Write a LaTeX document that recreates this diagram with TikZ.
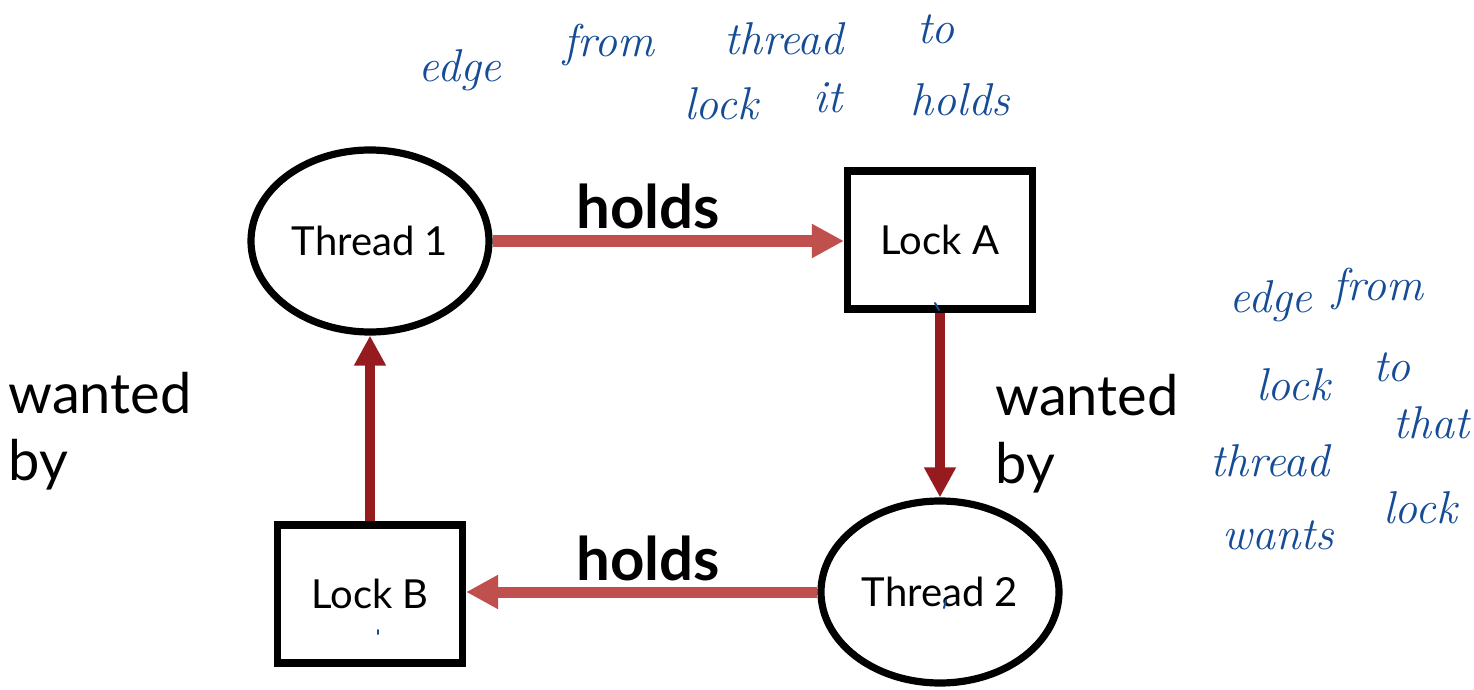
\documentclass[tikz,border=0pt]{standalone}
\usepackage{fontspec}
\setmainfont{Lato}
\usetikzlibrary{shapes.geometric,arrows.meta}
\definecolor{holdred}{HTML}{C0504D}
\definecolor{wantred}{HTML}{961B1E}
\definecolor{penblue}{RGB}{22,76,150}
\tikzset{
  thread/.style={ellipse, draw=black, line width=3.6pt, minimum width=119pt, minimum height=91pt, inner sep=0pt, font=\fontsize{20}{24}\selectfont},
  lockbox/.style={rectangle, draw=black, line width=3.6pt, minimum width=92.5pt, minimum height=69pt, inner sep=0pt, font=\fontsize{20}{24}\selectfont},
  holdsedge/.style={draw=holdred, line width=5.5pt, -{Triangle[length=16pt,width=16pt]}},
  wantedge/.style={draw=wantred, line width=5pt, -{Triangle[length=15pt,width=15pt]}},
  edgelabel/.style={font=\fontsize{30}{33}\selectfont\bfseries, anchor=base, inner sep=0pt},
  sidelabel/.style={font=\fontsize{28}{33.5}\selectfont, anchor=base west, inner sep=0pt},
  note/.style={font=\fontfamily{lmr}\fontsize{23}{26}\selectfont\itshape, text=penblue, anchor=base, inner sep=0pt},
  penmark/.style={draw=penblue, line width=1pt, line cap=round}
}
\begin{document}
\begin{tikzpicture}[x=0.5pt,y=-0.5pt]
  \useasboundingbox (0,0) rectangle (1474,690);

  % graph nodes
  \node[thread]  (t1) at (370,241) {Thread 1};
  \node[lockbox] (la) at (940,240) {Lock A};
  \node[thread]  (t2) at (940,592) {Thread 2};
  \node[lockbox] (lb) at (370,594) {Lock B};

  % edges
  \draw[holdsedge] (t1) -- (t1 -| la.west);
  \draw[wantedge]  (la) -- (t2);
  \draw[holdsedge] (t2) -- (t2 -| lb.east);
  \draw[wantedge]  (lb) -- (t1);

  % edge labels
  \node[edgelabel] (h1) at (648,228) {holds};
  \node[edgelabel] (h2) at (648,580) {holds};
  \node[sidelabel] (w1a) at (8,413) {wanted};
  \node[sidelabel] (w1b) at (8,480) {by};
  \node[sidelabel] (w2a) at (995,415) {wanted};
  \node[sidelabel] (w2b) at (995,483) {by};

  % handwritten notes, top
  \node[note] (n1) at (460,82)  {edge};
  \node[note] (n2) at (609,57)  {from};
  \node[note] (n3) at (784,55)  {thread};
  \node[note] (n4) at (936,44)  {to};
  \node[note] (n5) at (721,120) {lock};
  \node[note] (n6) at (828,113) {it};
  \node[note] (n7) at (960,116) {holds};

  % handwritten notes, right
  \node[note] (m1) at (1271,313) {edge};
  \node[note] (m2) at (1378,300) {from};
  \node[note] (m3) at (1293,400) {lock};
  \node[note] (m4) at (1392,381) {to};
  \node[note] (m5) at (1270,476) {thread};
  \node[note] (m6) at (1431,438) {that};
  \node[note] (m7) at (1278,549) {wants};
  \node[note] (m8) at (1420,523) {lock};

  % small pen marks
  \draw[penmark] (935,303) -- (939,310);
  \draw[penmark] (946,600) -- (944,608);
  \draw[penmark] (378,630) -- (378,634);
\end{tikzpicture}
\end{document}
